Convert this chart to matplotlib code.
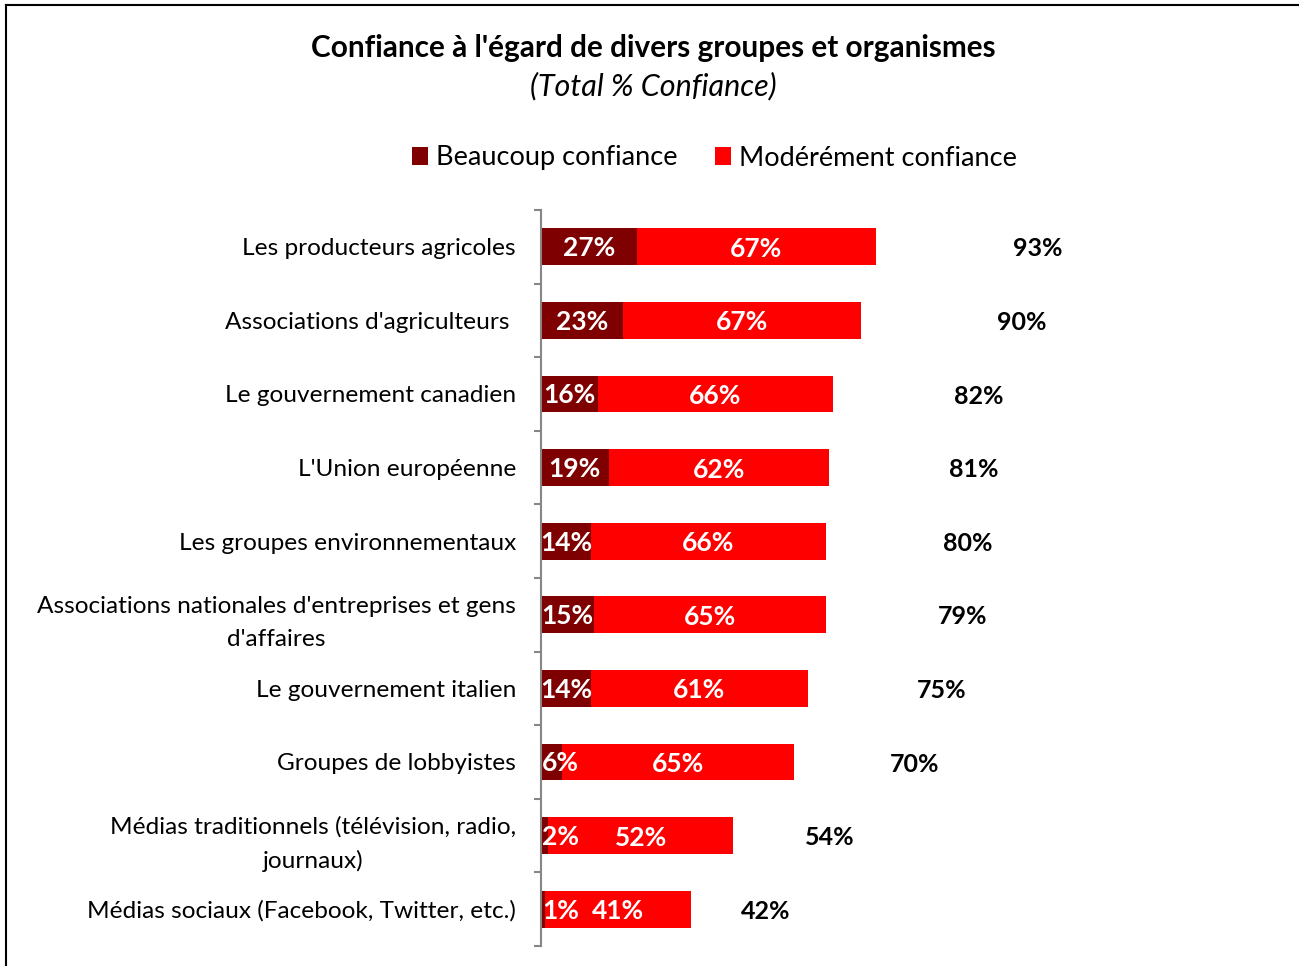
import matplotlib
matplotlib.use("Agg")
import matplotlib.pyplot as plt
from matplotlib.patches import Patch
from matplotlib.lines import Line2D
import numpy as np

categories = [
    "Les producteurs agricoles",
    "Associations d'agriculteurs ",
    "Le gouvernement canadien",
    "L'Union européenne",
    "Les groupes environnementaux",
    "Associations nationales d'entreprises et gens\nd'affaires",
    "Le gouvernement italien",
    "Groupes de lobbyistes",
    "Médias traditionnels (télévision, radio,\njournaux)",
    "Médias sociaux (Facebook, Twitter, etc.)",
]
beaucoup = [27, 23, 16, 19, 14, 15, 14, 6, 2, 1]
moderement = [67, 67, 66, 62, 66, 65, 61, 65, 52, 41]
totals = [93, 90, 82, 81, 80, 79, 75, 70, 54, 42]

series_names = ["Beaucoup confiance", "Modérément confiance"]
title = "Confiance à l'égard de divers groupes et organismes"
subtitle = "(Total % Confiance)"

DARK = "#7F0000"
RED = "#FF0000"
FONT = "Lato"

plt.rcParams["font.family"] = [FONT, "DejaVu Sans"]

W, H = 1299, 966
fig = plt.figure(figsize=(W / 100, H / 100), dpi=100)
ax = fig.add_axes([541 / W, 1 - 946 / H, (1290 - 541) / W, (946 - 210) / H])

y = np.arange(len(categories))
h = 0.5
b1 = ax.barh(y, beaucoup, height=h, color=DARK, edgecolor="none")
b2 = ax.barh(y, moderement, left=beaucoup, height=h, color=RED, edgecolor="none")
b3 = ax.barh(y, totals, left=totals, height=h, color="none", edgecolor="none")

lab_kw = dict(color="white", fontsize=19, fontweight="bold")
dy = 0.02  # small downward nudge of the in-bar labels
for rect, v in zip(b1, beaucoup):
    cy = rect.get_y() + rect.get_height() / 2 + dy
    if v < 10:
        ax.text(0.3, cy, f"{v}%", ha="left", va="center", **lab_kw)
    else:
        ax.text(rect.get_x() + rect.get_width() / 2, cy, f"{v}%",
                ha="center", va="center", **lab_kw)
anns = ax.bar_label(b2, labels=[f"{v}%" for v in moderement], label_type="center", **lab_kw)
anns += ax.bar_label(b3, labels=[f"{v}%" for v in totals], label_type="center",
                     color="black", fontsize=18, fontweight="bold")
for a in anns:
    a.xyann = (0, -1.5)

ax.set_xlim(0, (1290 - 541) / 3.56)
ax.set_ylim(len(categories) - 0.5, -0.5)
ax.set_yticks(y)
ax.set_yticklabels(categories, fontsize=17.6, color="black", multialignment="center",
                   linespacing=1.72)
ax.set_yticks(np.arange(len(categories) + 1) - 0.5, minor=True)
ax.tick_params(axis="y", which="major", length=0, pad=18)
ax.tick_params(axis="y", which="minor", length=5, width=1.5, color="#868686", direction="out")
ax.set_xticks([])
for s in ["top", "right", "bottom"]:
    ax.spines[s].set_visible(False)
ax.spines["left"].set_color("#868686")
ax.spines["left"].set_linewidth(1.5)

fig.text(653.5 / W, 1 - 48 / H, title, ha="center", va="center",
         fontsize=21.4, fontweight="bold")
fig.text(653.5 / W, 1 - 86 / H, subtitle, ha="center", va="center",
         fontsize=22, fontstyle="italic")

handles = [Patch(facecolor=DARK, edgecolor="none"), Patch(facecolor=RED, edgecolor="none")]
fig.legend(handles, series_names, loc="center", bbox_to_anchor=(714.5 / W, 1 - 158 / H),
           ncol=2, frameon=False, fontsize=19.5, handlelength=0.6, handleheight=0.6,
           handletextpad=0.3, columnspacing=1.37)

fig.add_artist(Line2D([6 / W, 6 / W], [0, 1 - 5 / H], transform=fig.transFigure,
                      color="black", lw=1.5))
fig.add_artist(Line2D([6 / W, 1], [1 - 5 / H, 1 - 5 / H], transform=fig.transFigure,
                      color="black", lw=1.5))

fig.savefig("out.png", dpi=100)
